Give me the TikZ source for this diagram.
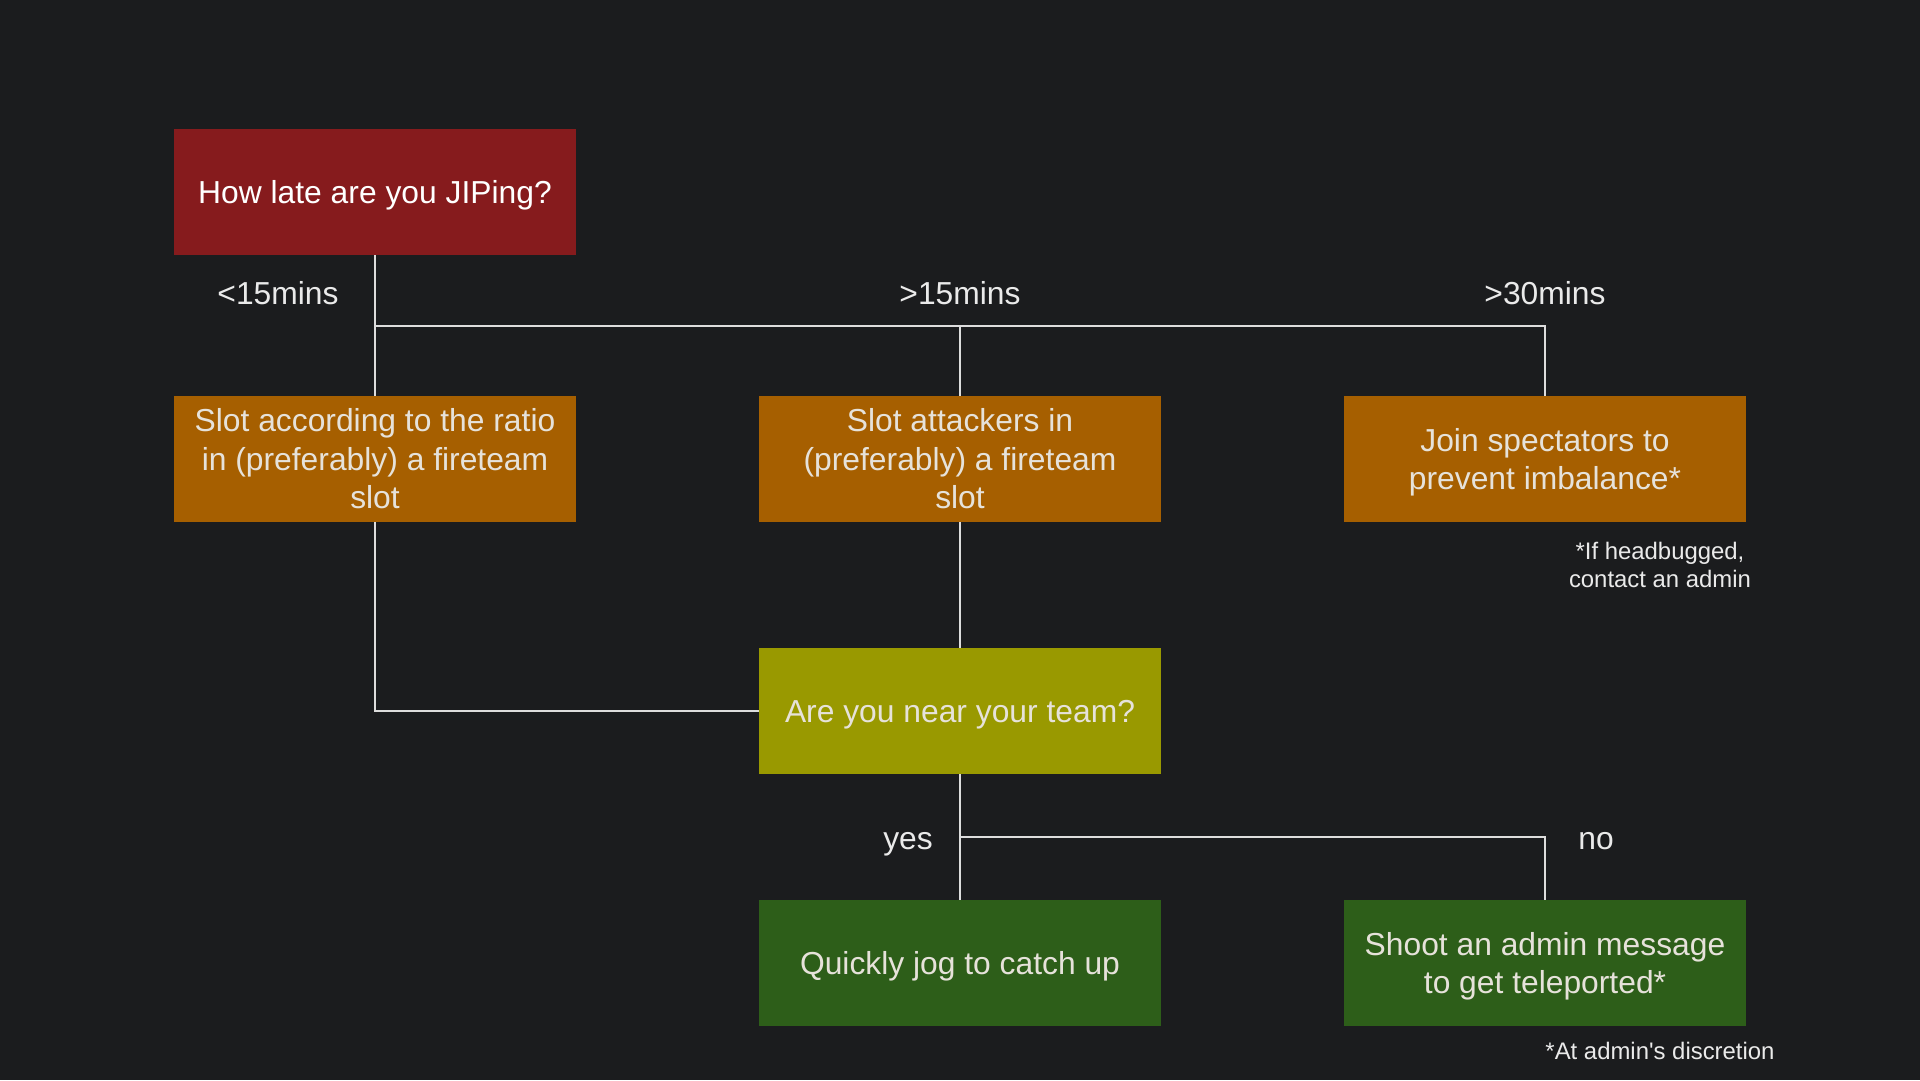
\documentclass[tikz,border=0pt]{standalone}
\usepackage{fontspec}
\setmainfont{Liberation Sans}
\definecolor{bg}{HTML}{1B1C1E}
\definecolor{cred}{HTML}{861B1D}
\definecolor{corange}{HTML}{A65F00}
\definecolor{cyellow}{HTML}{999900}
\definecolor{cgreen}{HTML}{2D5E19}
\definecolor{linec}{HTML}{DDDDDD}
\definecolor{txt}{HTML}{E6E2DA}
\definecolor{lbl}{HTML}{EAEAEA}
\newcommand{\ls}{\rule[-7.9pt]{0pt}{38.4pt}}
\newcommand{\ns}{\rule[-5.4pt]{0pt}{27.8pt}}
\tikzset{
  box/.style={rectangle, minimum width=402pt, minimum height=126pt, inner sep=0pt, align=center,
    text=txt, font=\fontsize{31.8}{38.4}\selectfont},
  lab/.style={text=lbl, inner sep=0pt, font=\fontsize{31.8}{38.4}\selectfont},
  note/.style={text=lbl, inner sep=0pt, align=center, font=\fontsize{23.9}{27.8}\selectfont},
  conn/.style={draw=linec, line width=2pt}
}
\begin{document}
\begin{tikzpicture}[x=1pt,y=-1pt]
\fill[bg] (0,0) rectangle (1920,1080);
\useasboundingbox (0,0) rectangle (1920,1080);
% nodes
\node[box, fill=cred, text=white] (q1) at (375,192) {\ls How late are you JIPing?};
\node[box, fill=corange] (a1) at (375,459) {\ls Slot according to the ratio\\\ls in (preferably) a fireteam\\\ls slot};
\node[box, fill=corange] (a2) at (960,459) {\ls Slot attackers in\\\ls (preferably) a fireteam\\\ls slot};
\node[box, fill=corange] (a3) at (1545,459) {\ls Join spectators to\\\ls prevent imbalance*};
\node[box, fill=cyellow] (q2) at (960,711) {\ls Are you near your team?};
\node[box, fill=cgreen] (b1) at (960,963) {\ls Quickly jog to catch up};
\node[box, fill=cgreen] (b2) at (1545,963) {\ls Shoot an admin message\\\ls to get teleported*};
% labels
\node[lab] (l1) at (278,293) {\ls<15mins};
\node[lab] (l2) at (960,293) {\ls>15mins};
\node[lab] (l3) at (1545,293) {\ls>30mins};
\node[lab] (l4) at (908,838) {\ls yes};
\node[lab] (l5) at (1596,838) {\ls no};
\node[note] (n1) at (1660,565) {\ns*If headbugged,\\\ns contact an admin};
\node[note] (n2) at (1660,1051) {\ns*At admin\textquotesingle s discretion};
% junctions
\coordinate (j1) at (375,326);
\coordinate (j2) at (960,326);
\coordinate (j3) at (1545,326);
\coordinate (j4) at (960,837);
\coordinate (j5) at (1545,837);
% connectors
\draw[conn] (q1.south) -- (a1.north);
\draw[conn] (j1) -- (j3) -- (a3.north);
\draw[conn] (j2) -- (a2.north);
\draw[conn] (a1.south) |- (q2.west);
\draw[conn] (a2.south) -- (q2.north);
\draw[conn] (q2.south) -- (b1.north);
\draw[conn] (j4) -- (j5) -- (b2.north);
\end{tikzpicture}
\end{document}
